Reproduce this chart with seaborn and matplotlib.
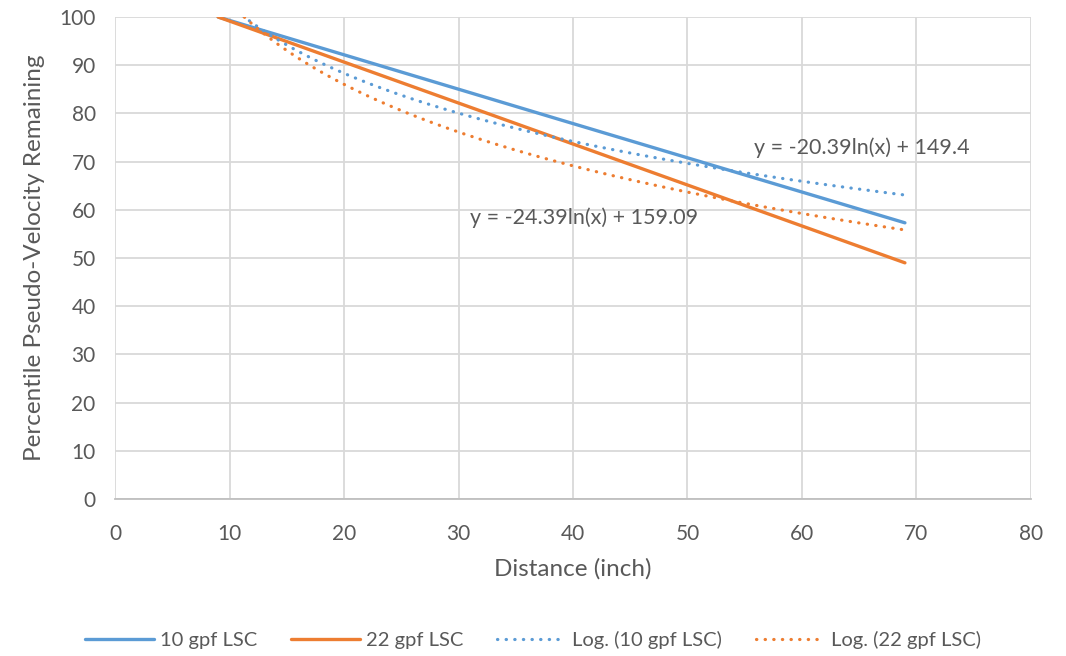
import numpy as np
import pandas as pd
import matplotlib
matplotlib.use('Agg')
import matplotlib.pyplot as plt
import seaborn as sns

distance = [9, 39, 69]
lsc_10 = [100, 78.6, 57.3]
lsc_22 = [100, 74.5, 49.0]

# Log trendline coefficients as printed on the chart: y = a*ln(x) + b
log10_a, log10_b = -20.39, 149.4
log22_a, log22_b = -24.39, 159.09

blue = '#5B9BD5'
orange = '#ED7D31'
grey_text = '#595959'

sns.set_theme(style='white')
plt.rcParams['font.family'] = ['Lato', 'DejaVu Sans']

df = pd.DataFrame({'Distance': distance, '10 gpf LSC': lsc_10, '22 gpf LSC': lsc_22})

fig = plt.figure(figsize=(10.66, 6.56), dpi=100)
ax = fig.add_axes([0.108, 0.2393, 0.859, 0.7348])

sns.lineplot(data=df, x='Distance', y='10 gpf LSC', color=blue, linewidth=2.4,
             label='10 gpf LSC', ax=ax)
sns.lineplot(data=df, x='Distance', y='22 gpf LSC', color=orange, linewidth=2.4,
             label='22 gpf LSC', ax=ax)

# trendlines over the data range
dots = (0, (0.1, 2.6))
xs = np.linspace(min(distance), max(distance), 300)
ax.plot(xs, log10_a * np.log(xs) + log10_b, color=blue, linewidth=2.3,
        linestyle=dots, dash_capstyle='round', label='Log. (10 gpf LSC)')
ax.plot(xs, log22_a * np.log(xs) + log22_b, color=orange, linewidth=2.3,
        linestyle=dots, dash_capstyle='round', label='Log. (22 gpf LSC)')

ax.text(65.2, 72.8, 'y = -20.39ln(x) + 149.4', ha='center', va='center',
        fontsize=15.5, color=grey_text)
ax.text(41.0, 58.3, 'y = -24.39ln(x) + 159.09', ha='center', va='center',
        fontsize=15.5, color=grey_text)

ax.set_xlim(0, 80)
ax.set_ylim(0, 100)
ax.set_xticks(range(0, 81, 10))
ax.set_yticks(range(0, 101, 10))
ax.grid(True, color='#d9d9d9', linewidth=1.3)
ax.set_axisbelow(True)
for s in ['top', 'right', 'left']:
    ax.spines[s].set_visible(False)
ax.spines['bottom'].set_color('#bfbfbf')
ax.spines['bottom'].set_linewidth(1.3)
ax.tick_params(axis='both', length=0, labelsize=15, colors=grey_text)
ax.tick_params(axis='x', pad=18)
ax.tick_params(axis='y', pad=14)

ax.set_xlabel('Distance (inch)', fontsize=17.5, color=grey_text, labelpad=10)
ax.set_ylabel('Percentile Pseudo-Velocity Remaining', fontsize=17.5, color=grey_text, labelpad=10)

handles, labels = ax.get_legend_handles_labels()
ax.get_legend().remove()
fig.legend(handles, labels, loc='center', bbox_to_anchor=(0.5, 1 - 640 / 656), ncol=4,
           frameon=False, fontsize=14.5, labelcolor=grey_text, handlelength=3.4,
           columnspacing=1.7, handletextpad=0.3)

fig.savefig('out.png', dpi=100)
